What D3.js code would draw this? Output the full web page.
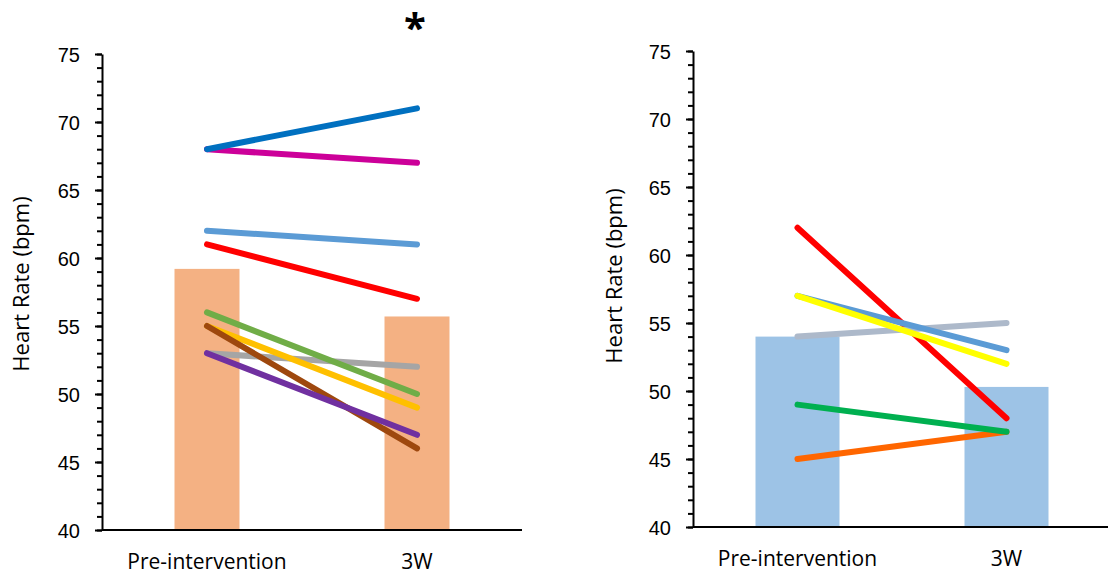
<!DOCTYPE html>
<html lang="en">
<head>
    <meta charset="UTF-8">
    <title>Heart Rate Pre vs 3W</title>
    <script src="https://d3js.org/d3.v7.min.js"></script>
    <style>
        body {
            margin: 0;
            background: #fff;
            font-family: "Open Sans", Arial, sans-serif;
        }
        .tick text {
            font-size: 20px;
            fill: #000;
        }
        .domain, .tick line {
            stroke: #000;
            stroke-width: 2px;
        }
    </style>
</head>
<body>
    <div id="chart"></div>

    <script>
        const categories = ["Pre-intervention", "3W"];
        const yTicks = [40, 45, 50, 55, 60, 65, 70, 75];

        // left panel (orange bars)
        const leftMeans = [59.2, 55.7];
        const leftNames = ["blue", "magenta", "lightblue", "red", "gray", "brown", "yellow", "purple", "green"];
        const leftPre = [68, 68, 62, 61, 53, 55, 55, 53, 56];
        const leftPost = [71, 67, 61, 57, 52, 46, 49, 47, 50];

        // right panel (blue bars)
        const rightMeans = [54.0, 50.3];
        const rightNames = ["orange", "green", "red", "gray", "blue", "yellow"];
        const rightPre = [45, 49, 62, 54, 57, 57];
        const rightPost = [47, 47, 48, 55, 53, 52];

        const width = 1108;
        const height = 574;

        const svg = d3.select("#chart")
            .append("svg")
            .attr("width", width)
            .attr("height", height);

        const leftColors = {
            blue: "#0070C0", magenta: "#CC0099", lightblue: "#5B9BD5", red: "#FF0000",
            gray: "#A5A5A5", brown: "#9E480E", yellow: "#FFC000", purple: "#7030A0", green: "#70AD47"
        };
        const rightColors = {
            orange: "#FF6600", green: "#00B050", red: "#FF0000",
            gray: "#ADB9CA", blue: "#5B9BD5", yellow: "#FFFF00"
        };

        // draw order: first entry lies underneath
        const leftOrder = ["gray", "yellow", "brown", "purple", "green", "red", "lightblue", "magenta", "blue"];
        const rightOrder = ["orange", "green", "red", "gray", "blue", "yellow"];

        function drawPanel(opt) {
            const g = svg.append("g");

            const x = d3.scalePoint()
                .domain(categories)
                .range([opt.x0, opt.x1])
                .padding(0.5);

            const y = d3.scaleLinear()
                .domain([40, 75])
                .range([opt.yBottom, opt.yTop]);

            // bars (means)
            g.selectAll("rect.bar")
                .data(opt.means)
                .enter()
                .append("rect")
                .attr("class", "bar")
                .attr("x", (d, i) => x(categories[i]) - opt.barWidth / 2)
                .attr("width", opt.barWidth)
                .attr("y", d => y(d))
                .attr("height", d => y(40) - y(d))
                .attr("fill", opt.barColor);

            // individual subjects
            const subjects = opt.names.map((n, i) => ({ name: n, pre: opt.pre[i], post: opt.post[i] }));
            subjects.sort((a, b) => opt.order.indexOf(a.name) - opt.order.indexOf(b.name));

            g.selectAll("line.subj")
                .data(subjects)
                .enter()
                .append("line")
                .attr("class", "subj")
                .attr("x1", x(categories[0]))
                .attr("x2", x(categories[1]))
                .attr("y1", d => y(d.pre))
                .attr("y2", d => y(d.post))
                .attr("stroke", d => opt.colors[d.name])
                .attr("stroke-width", 6)
                .attr("stroke-linecap", "round");

            // minor ticks
            g.append("g")
                .attr("transform", `translate(${opt.x0},0)`)
                .call(d3.axisLeft(y).tickValues(d3.range(40, 76, 1)).tickSize(5).tickFormat(""))
                .call(a => a.select(".domain").remove());

            // major ticks + labels
            g.append("g")
                .attr("transform", `translate(${opt.x0},0)`)
                .call(d3.axisLeft(y).tickValues(yTicks).tickSize(7).tickPadding(15).tickSizeOuter(0))
                .call(a => a.selectAll(".tick text").attr("dy", "0.36em"));

            // x axis baseline
            g.append("line")
                .attr("x1", opt.x0)
                .attr("x2", opt.xAxisEnd)
                .attr("y1", y(40))
                .attr("y2", y(40))
                .attr("stroke", "#000")
                .attr("stroke-width", 2);

            // category labels
            g.selectAll("text.cat")
                .data(categories)
                .enter()
                .append("text")
                .attr("class", "cat")
                .attr("x", d => x(d))
                .attr("y", opt.catY)
                .attr("text-anchor", "middle")
                .attr("font-size", 21)
                .attr("fill", "#000")
                .text(d => d);

            // y title
            g.append("text")
                .attr("transform", `translate(${opt.titleX},${opt.titleY}) rotate(-90)`)
                .attr("text-anchor", "middle")
                .attr("font-size", 22)
                .attr("fill", "#000")
                .text("Heart Rate (bpm)");

            return { x, y, g };
        }

        const left = drawPanel({
            x0: 102, x1: 522, xAxisEnd: 522, yTop: 54, yBottom: 530,
            means: leftMeans, names: leftNames, pre: leftPre, post: leftPost,
            colors: leftColors, order: leftOrder, barColor: "#F4B183", barWidth: 65,
            catY: 569, titleX: 29, titleY: 284
        });

        drawPanel({
            x0: 693, x1: 1111, xAxisEnd: 1108, yTop: 51, yBottom: 527,
            means: rightMeans, names: rightNames, pre: rightPre, post: rightPost,
            colors: rightColors, order: rightOrder, barColor: "#9DC3E6", barWidth: 84,
            catY: 566, titleX: 622, titleY: 276
        });

        // significance marker above 3W on the left panel
        left.g.append("text")
            .attr("x", left.x("3W") - 2)
            .attr("y", 42)
            .attr("text-anchor", "middle")
            .attr("font-size", 40)
            .attr("font-weight", "bold")
            .attr("fill", "#000")
            .text("*");
    </script>
</body>
</html>
